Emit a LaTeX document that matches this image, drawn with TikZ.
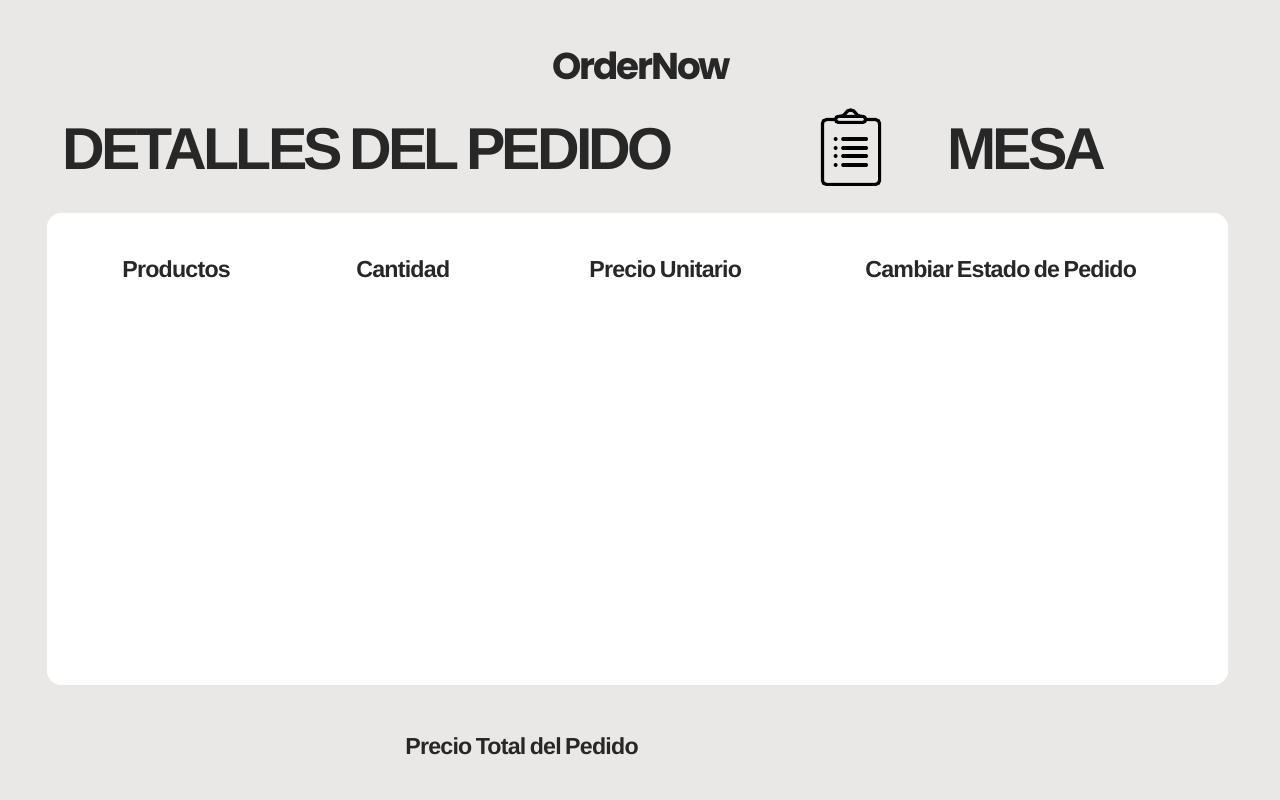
\documentclass[tikz,border=0pt]{standalone}
\usepackage{fontspec}
\setmainfont{Liberation Sans}
\newfontfamily\logofont[LetterSpace=-5.7]{Poppins}
\newfontfamily\titlefont[LetterSpace=-6.4,WordSpace=0.5]{Liberation Sans}
\newfontfamily\headfont[LetterSpace=-3.3,WordSpace=0.6]{Liberation Sans}
\definecolor{fondo}{HTML}{E9E8E6}
\definecolor{tinta}{HTML}{272727}

\begin{document}
\begin{tikzpicture}[every node/.style={text=tinta, inner sep=0pt, anchor=base west},
    titulo/.style={font=\titlefont\bfseries\fontsize{42}{42}\selectfont},
    columna/.style={font=\headfont\bfseries\fontsize{16.5}{16.5}\selectfont},
    trazo/.style={black, line width=0.08cm}]
    \useasboundingbox (0,0) rectangle (32,20);
    \fill[fondo] (0,0) rectangle (32,20);
    \fill[white, rounded corners=0.35cm] (1.175,2.875) rectangle (30.7,14.675);

    % Logo
    \node[font=\logofont\bfseries\fontsize{26.5}{26.5}\selectfont] (logo) at (13.8,18) {OrderNow};

    % Titulos
    \node[titulo] (detalles) at (1.55,15.75) {DETALLES DEL PEDIDO};
    \node[titulo] (mesa) at (23.675,15.75) {MESA};

    % Icono
    \draw[trazo, rounded corners=0.1cm] (20.89,17.01) -- (20.56,17.01) -- (20.56,15.39) -- (21.99,15.39) -- (21.99,17.01) -- (21.64,17.01);
    \draw[trazo, rounded corners=0.07cm] (20.89,16.94) rectangle (21.64,17.09);
    \draw[trazo] (20.98,17.09) .. controls (21.17,17.09) and (21.12,17.25) .. (21.265,17.25) .. controls (21.41,17.25) and (21.36,17.09) .. (21.55,17.09);
    \foreach \y in {16.525,16.3,16.1,15.875} {
        \draw[trazo, line cap=round] (21.07,\y) -- (21.66,\y);
        \fill[black] (20.89,\y) circle (0.05);
    }

    % Columnas
    \node[columna] (productos) at (3.05,13.06) {Productos};
    \node[columna] (cantidad) at (8.9,13.06) {Cantidad};
    \node[columna] (precio) at (14.725,13.06) {Precio Unitario};
    \node[columna] (estado) at (21.625,13.06) {Cambiar Estado de Pedido};

    \node[columna] (total) at (10.125,1.135) {Precio Total del Pedido};
\end{tikzpicture}
\end{document}
